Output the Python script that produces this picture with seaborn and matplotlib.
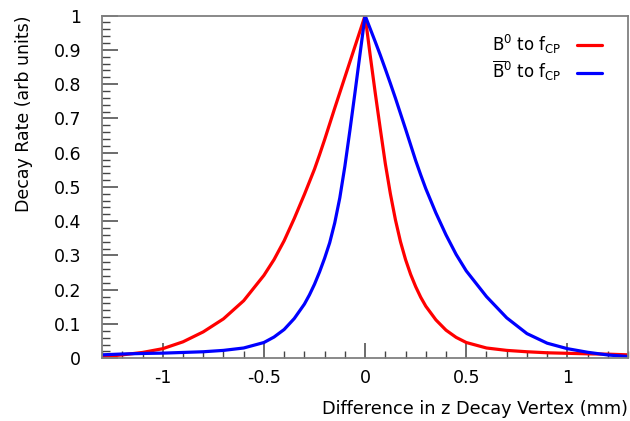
import pandas as pd
import matplotlib
matplotlib.use('Agg')
import matplotlib.pyplot as plt
from matplotlib.ticker import MultipleLocator
import seaborn as sns

# values
dz = [-1.3, -1.2, -1.1, -1.0, -0.9, -0.8, -0.7, -0.6, -0.5, -0.45, -0.4, -0.35,
      -0.3, -0.275, -0.25, -0.225, -0.2, -0.175, -0.15, -0.125, -0.1, -0.075,
      -0.05, -0.025, 0.0, 0.025, 0.05, 0.075, 0.1, 0.125, 0.15, 0.175, 0.2,
      0.225, 0.25, 0.275, 0.3, 0.35, 0.4, 0.45, 0.5, 0.6, 0.7, 0.8, 0.9, 1.0,
      1.1, 1.2, 1.3]
b0_rate = [0.004, 0.010, 0.017, 0.028, 0.048, 0.077, 0.115, 0.168, 0.242, 0.288,
           0.343, 0.408, 0.478, 0.515, 0.552, 0.594, 0.638, 0.684, 0.73, 0.775,
           0.82, 0.865, 0.91, 0.955, 1.0, 0.885, 0.775, 0.67, 0.568, 0.48, 0.404,
           0.34, 0.288, 0.245, 0.209, 0.178, 0.152, 0.112, 0.082, 0.061, 0.046,
           0.030, 0.023, 0.019, 0.016, 0.0145, 0.013, 0.012, 0.010]
b0bar_rate = [0.010, 0.0125, 0.014, 0.015, 0.017, 0.019, 0.023, 0.030, 0.046, 0.062,
              0.084, 0.116, 0.158, 0.185, 0.216, 0.252, 0.292, 0.337, 0.395, 0.468,
              0.56, 0.665, 0.775, 0.888, 1.0, 0.962, 0.924, 0.885, 0.844, 0.802,
              0.759, 0.714, 0.669, 0.623, 0.577, 0.535, 0.495, 0.424, 0.36, 0.303,
              0.255, 0.18, 0.118, 0.072, 0.044, 0.028, 0.0175, 0.0096, 0.005]
labels = [r'B$^0$ to f$_{\mathrm{CP}}$', r'$\overline{\mathrm{B}}^0$ to f$_{\mathrm{CP}}$']
colors = ['#ff0000', '#0000ff']

sns.set_style('white')
plt.rcParams['font.family'] = ['DejaVu Sans']
plt.rcParams['mathtext.fontset'] = 'dejavusans'
plt.rcParams['text.color'] = 'black'
plt.rcParams['axes.labelcolor'] = 'black'

df = pd.DataFrame({'dz': dz * 2,
                   'rate': b0_rate + b0bar_rate,
                   'which': [labels[0]] * len(dz) + [labels[1]] * len(dz)})

fig = plt.figure(figsize=(6.3, 4.21), dpi=100)
ax = fig.add_axes([0.162, 0.149, 0.835, 0.814])
sns.lineplot(data=df, x='dz', y='rate', hue='which', palette=colors,
             linewidth=2.3, ax=ax, legend=False)

ax.set_xlim(-1.3, 1.3)
ax.set_ylim(0, 1)
ax.xaxis.set_minor_locator(MultipleLocator(0.1))
ax.yaxis.set_minor_locator(MultipleLocator(0.02))
ax.set_xticks([-1, -0.5, 0, 0.5, 1])
ax.set_xticklabels(['-1', '-0.5', '0', '0.5', '1'])
ax.set_yticks([0, 0.1, 0.2, 0.3, 0.4, 0.5, 0.6, 0.7, 0.8, 0.9, 1])
ax.set_yticklabels(['0', '0.1', '0.2', '0.3', '0.4', '0.5', '0.6', '0.7', '0.8', '0.9', '1'])
ax.tick_params(which='both', direction='in', color='#444444', bottom=True, left=True,
               top=False, right=False, labelsize=12.5, labelcolor='black')
ax.tick_params(axis='y', which='major', length=11.5, width=1.1, pad=15)
ax.tick_params(axis='y', which='minor', length=6, width=1.0)
ax.tick_params(axis='x', which='major', length=11, width=1.1, pad=8)
ax.tick_params(axis='x', which='minor', length=5, width=1.0)
for s in ax.spines.values():
    s.set_color('#808080')
    s.set_linewidth(1.3)

ax.set_ylabel('Decay Rate (arb units)', fontsize=12.5, loc='top', labelpad=15)
ax.set_xlabel('Difference in z Decay Vertex (mm)', fontsize=12.7, loc='right', labelpad=9)

handles = [plt.Line2D([], [], color=c, linewidth=2.3) for c in colors]
ax.legend(handles, labels, loc='upper right', bbox_to_anchor=(0.966, 0.975),
          frameon=False, markerfirst=False, fontsize=12, handlelength=1.5,
          handletextpad=0.9, labelspacing=0.22, borderpad=0)

fig.savefig('out.png', dpi=100)
